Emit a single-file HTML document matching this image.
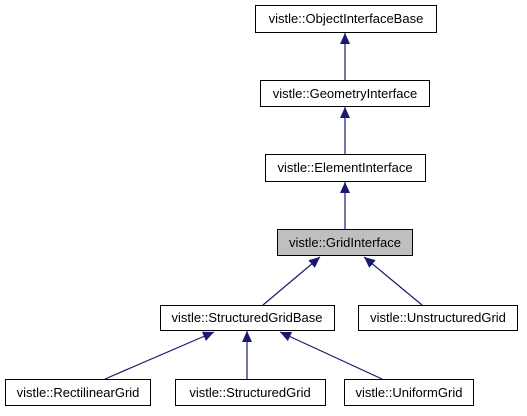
<!DOCTYPE html>
<html><head><style>body{margin:0;background:#fff}</style></head><body>
<svg width="527" height="411" viewBox="0 0 527 411" xmlns="http://www.w3.org/2000/svg" font-family="Liberation Sans, sans-serif" font-size="13">
<defs><marker id="a" markerWidth="12" markerHeight="12" refX="11" refY="6" orient="auto" markerUnits="userSpaceOnUse"><path d="M0,1 L11,6 L0,11 z" fill="#191970"/></marker></defs>
<g stroke="#191970" stroke-width="1.2" fill="none" marker-end="url(#a)">
<line x1="345" y1="80" x2="345" y2="33"/>
<line x1="345" y1="154" x2="345" y2="107"/>
<line x1="345" y1="229" x2="345" y2="182"/>
<line x1="263" y1="305" x2="320" y2="257"/>
<line x1="422" y1="305" x2="364" y2="257"/>
<line x1="105" y1="379" x2="214" y2="332"/>
<line x1="247" y1="379" x2="247" y2="331"/>
<line x1="382" y1="379" x2="280" y2="332"/>
</g>
<g stroke="#000" stroke-width="1" fill="#fff">
<rect x="255.5" y="5.5" width="181" height="27"/>
<rect x="260.5" y="80.5" width="169" height="26"/>
<rect x="265.5" y="154.5" width="160" height="27"/>
<rect x="277.5" y="229.5" width="135" height="26" fill="#bfbfbf"/>
<rect x="160.5" y="305.5" width="174" height="25"/>
<rect x="358.5" y="305.5" width="159" height="25"/>
<rect x="5.5" y="379.5" width="145" height="26"/>
<rect x="175.5" y="379.5" width="150" height="26"/>
<rect x="344.5" y="379.5" width="129" height="26"/>
</g>
<g fill="#000" text-anchor="middle">
<text x="346" y="23">vistle::ObjectInterfaceBase</text>
<text x="345" y="98">vistle::GeometryInterface</text>
<text x="345" y="172">vistle::ElementInterface</text>
<text x="345" y="247">vistle::GridInterface</text>
<text x="247" y="322">vistle::StructuredGridBase</text>
<text x="438" y="322">vistle::UnstructuredGrid</text>
<text x="78" y="397">vistle::RectilinearGrid</text>
<text x="250" y="397">vistle::StructuredGrid</text>
<text x="409" y="397">vistle::UniformGrid</text>
</g>
</svg>
</body></html>
